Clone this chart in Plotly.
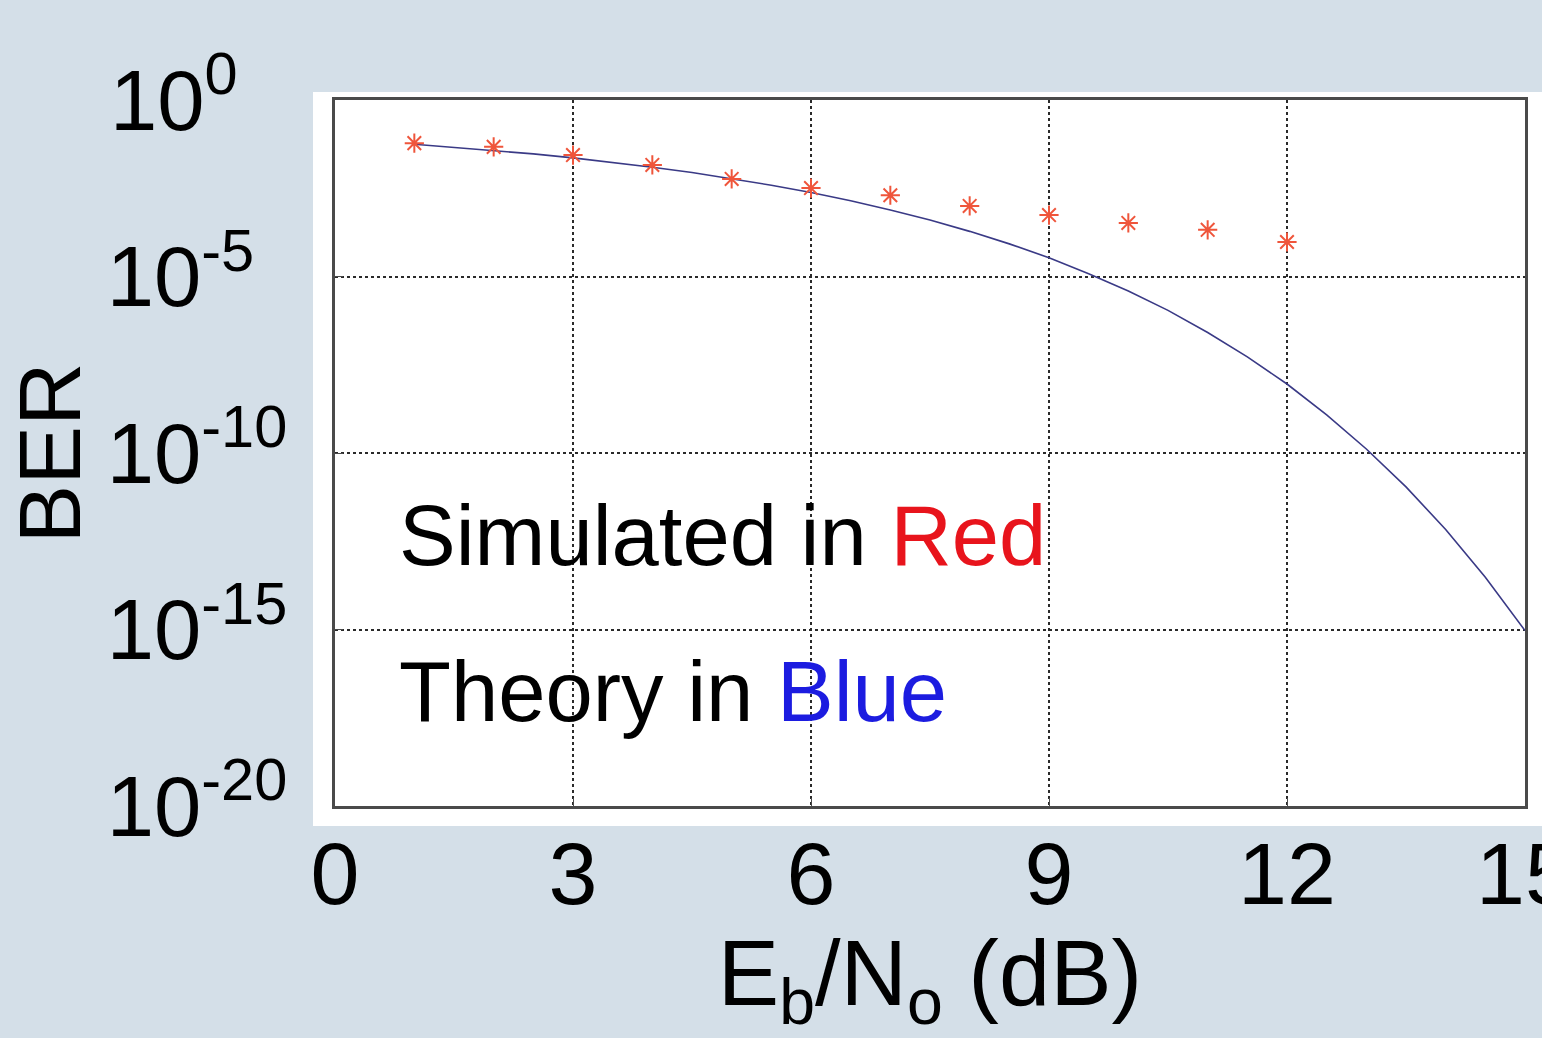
import plotly.graph_objects as go

# ---- data ----
sim_ebno = [1, 2, 3, 4, 5, 6, 7, 8, 9, 10, 11, 12]
sim_ber = [6.0e-2, 4.7e-2, 2.75e-2, 1.45e-2, 5.8e-3, 3.2e-3, 2.0e-3, 1.0e-3,
           5.5e-4, 3.3e-4, 2.1e-4, 9.5e-5]

theory_ebno = [1, 1.5, 2, 2.5, 3, 3.5, 4, 4.5, 5, 5.5, 6, 6.5, 7, 7.5, 8, 8.5,
               9, 9.5, 10, 10.5, 11, 11.5, 12, 12.5, 13, 13.5, 14, 14.5, 15]
theory_ber = [5.6e-2, 4.6e-2, 3.75e-2, 2.97e-2, 2.29e-2, 1.72e-2, 1.25e-2, 8.8e-3,
              5.95e-3, 3.86e-3, 2.39e-3, 1.4e-3, 7.7e-4, 4.0e-4, 1.9e-4, 8.4e-5,
              3.4e-5, 1.2e-5, 3.9e-6, 1.1e-6, 2.6e-7, 5.3e-8, 9.0e-9, 1.2e-9,
              1.3e-10, 1.1e-11, 6.8e-13, 3.0e-14, 9.3e-16]

x_ticks = [0, 3, 6, 9, 12, 15]
y_exponents = [0, -5, -10, -15, -20]

BG = "#d4dfe8"
FONT = "Liberation Sans, Arial"

fig = go.Figure()

fig.add_trace(go.Scatter(
    x=theory_ebno, y=theory_ber, mode="lines",
    line=dict(color="#3a3a86", width=1.6), showlegend=False))

fig.add_trace(go.Scatter(
    x=sim_ebno, y=sim_ber, mode="markers",
    marker=dict(symbol="asterisk-open", size=16,
                line=dict(color="#c0103a", width=2)),
    showlegend=False))

# left-aligned look for the y tick labels (pad shorter exponents)
max_len = max(len(str(e)) for e in y_exponents)
y_ticktext = []
for e in y_exponents:
    pad = "\u00a0" * int(round((max_len - len(str(e))) * 1.6))
    y_ticktext.append("10<sup>%s%s</sup>" % (e, pad))

fig.update_xaxes(
    range=[0, 15], tickvals=x_ticks, ticktext=[str(v) for v in x_ticks],
    showgrid=True, gridcolor="#2a2a2a", griddash="dot", gridwidth=2,
    showline=True, mirror=True, linecolor="#4a4a4a", linewidth=2.5,
    ticks="inside", ticklen=8, tickcolor="#4a4a4a",
    zeroline=False, automargin=False,
    ticklabeloverflow="allow",
    tickfont=dict(family=FONT, size=88, color="black"),
    title=dict(text="E<sub>b</sub>/N<sub>o</sub> (dB)",
               font=dict(family=FONT, size=92, color="black"),
               standoff=37),
    ticklabelstandoff=-10,
)

fig.update_yaxes(
    type="log", range=[-20, 0],
    tickvals=[10.0 ** e for e in y_exponents], ticktext=y_ticktext,
    showgrid=True, gridcolor="#2a2a2a", griddash="dot", gridwidth=2,
    showline=True, mirror=True, linecolor="#4a4a4a", linewidth=2.5,
    ticks="inside", ticklen=8, tickcolor="#4a4a4a",
    zeroline=False, automargin=False,
    tickfont=dict(family=FONT, size=85, color="black"),
    title=dict(text="BER",
               font=dict(family=FONT, size=88, color="black"),
               standoff=0),
    ticklabelstandoff=28,
)

# white panel behind the axes
fig.add_shape(type="rect", xref="paper", yref="paper", layer="below",
              x0=-0.0185, x1=1.02, y0=-0.0283, y1=1.0113,
              fillcolor="white", line=dict(width=0))

fig.add_annotation(
    x=0.78, y=-12.35, xref="x", yref="y", xanchor="left", yanchor="middle",
    showarrow=False,
    text='Simulated in <span style="color:#e8141c">Red</span>',
    font=dict(family=FONT, size=85, color="black"))
fig.add_annotation(
    x=0.78, y=-16.75, xref="x", yref="y", xanchor="left", yanchor="middle",
    showarrow=False,
    text='Theory in <span style="color:#1c1ce0">Blue</span>',
    font=dict(family=FONT, size=85, color="black"))

fig.update_layout(
    width=1542, height=1038,
    margin=dict(l=335, r=17, t=100, b=232),
    paper_bgcolor=BG, plot_bgcolor="white",
    showlegend=False,
)

fig.write_html("out.html")
